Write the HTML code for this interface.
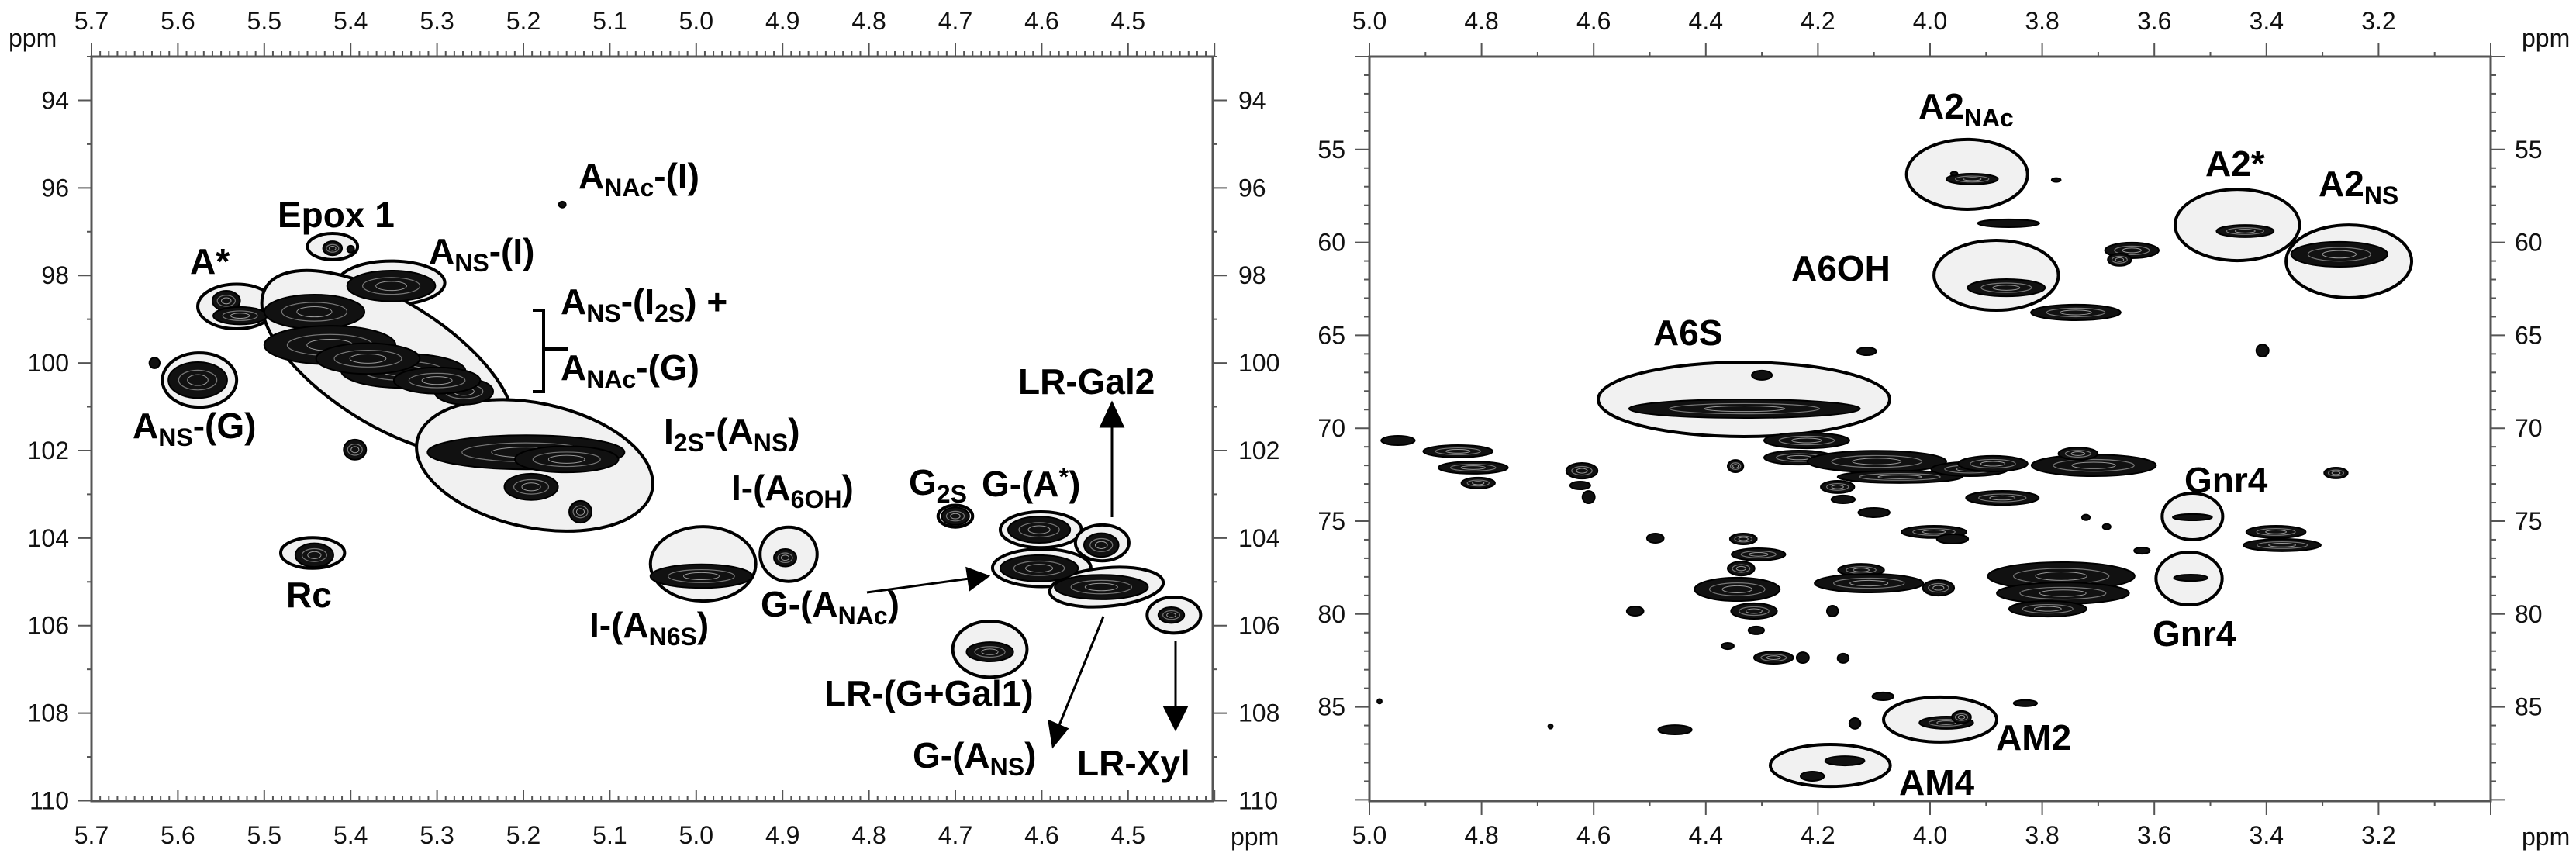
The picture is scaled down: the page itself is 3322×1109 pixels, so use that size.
<!DOCTYPE html>
<html><head><meta charset="utf-8">
<style>
html,body{margin:0;padding:0;background:#fff;}
svg{display:block;}
.tk{font-family:"Liberation Sans",Arial,sans-serif;font-size:32px;fill:#111;}
.lb{font-family:"Liberation Sans",Arial,sans-serif;font-size:46px;font-weight:bold;fill:#000;}
.sb{font-size:32px;}
</style></head>
<body>
<svg id="chart" width="3322" height="1109" viewBox="0 0 3322 1109" xmlns="http://www.w3.org/2000/svg">
<g id="circlesL"></g>
<g id="circlesR"></g>
<g id="peaksL"></g>
<g id="peaksR"></g>
<g id="axes"></g>
<g id="annot">
  <g>
  <text class="lb" x="746" y="243">A<tspan class="sb" dy="10">NAc</tspan><tspan dy="-10">-(I)</tspan></text>
  <text class="lb" x="358" y="293">Epox 1</text>
  <text class="lb" x="245" y="353">A*</text>
  <text class="lb" x="553" y="340">A<tspan class="sb" dy="10">NS</tspan><tspan dy="-10">-(I)</tspan></text>
  <text class="lb" x="723" y="405">A<tspan class="sb" dy="10">NS</tspan><tspan dy="-10">-(I</tspan><tspan class="sb" dy="10">2S</tspan><tspan dy="-10">) +</tspan></text>
  <text class="lb" x="723" y="490">A<tspan class="sb" dy="10">NAc</tspan><tspan dy="-10">-(G)</tspan></text>
  <text class="lb" x="171" y="565">A<tspan class="sb" dy="10">NS</tspan><tspan dy="-10">-(G)</tspan></text>
  <text class="lb" x="856" y="572">I<tspan class="sb" dy="10">2S</tspan><tspan dy="-10">-(A</tspan><tspan class="sb" dy="10">NS</tspan><tspan dy="-10">)</tspan></text>
  <text class="lb" x="943" y="645">I-(A<tspan class="sb" dy="10">6OH</tspan><tspan dy="-10">)</tspan></text>
  <text class="lb" x="1172" y="638">G<tspan class="sb" dy="10">2S</tspan></text>
  <text class="lb" x="1266" y="640">G-(A<tspan class="sb" dy="-14">*</tspan><tspan dy="14">)</tspan></text>
  <text class="lb" x="981" y="795">G-(A<tspan class="sb" dy="10">NAc</tspan><tspan dy="-10">)</tspan></text>
  <text class="lb" x="760" y="822">I-(A<tspan class="sb" dy="10">N6S</tspan><tspan dy="-10">)</tspan></text>
  <text class="lb" x="1063" y="910">LR-(G+Gal1)</text>
  <text class="lb" x="1177" y="990">G-(A<tspan class="sb" dy="10">NS</tspan><tspan dy="-10">)</tspan></text>
  <text class="lb" x="1389" y="1000">LR-Xyl</text>
  <text class="lb" x="369" y="783">Rc</text>
  <text class="lb" x="1313" y="508">LR-Gal2</text>
  <path d="M687,400 H701 V505 H687 M701,450 H732" fill="none" stroke="#000" stroke-width="4"/>
  <g stroke="#000" stroke-width="3" fill="#000">
    <line x1="1434" y1="667" x2="1434" y2="545"/><polygon points="1420,550 1448,550 1434,520"/>
    <line x1="1118" y1="764" x2="1250" y2="746"/><polygon points="1247,733 1251,760 1274,743"/>
    <line x1="1423" y1="795" x2="1366" y2="935"/><polygon points="1353,930 1376,940 1358,962"/>
    <line x1="1516" y1="827" x2="1516" y2="915"/><polygon points="1502,912 1530,912 1516,940"/>
  </g>
  </g>
  <g>
  <text class="lb" x="2474" y="153">A2<tspan class="sb" dy="10">NAc</tspan></text>
  <text class="lb" x="2310" y="362">A6OH</text>
  <text class="lb" x="2132" y="445">A6S</text>
  <text class="lb" x="2844" y="227">A2*</text>
  <text class="lb" x="2990" y="253">A2<tspan class="sb" dy="10">NS</tspan></text>
  <text class="lb" x="2817" y="635">Gnr4</text>
  <text class="lb" x="2776" y="833">Gnr4</text>
  <text class="lb" x="2574" y="967">AM2</text>
  <text class="lb" x="2449" y="1025">AM4</text>
  </g>
</g>
</svg>
<script>
// ---------- data (ppm) ----------
const peakLx = [5.544,5.528,5.421,5.353,5.442,5.424,5.339,5.269,5.577,5.197,5.191,5.134,5.442,4.994,4.897,4.700,4.603,4.531,4.603,4.531,4.450,4.660,5.155,5.627,5.395,5.400,5.380,5.300,5.150];
const peakLy = [98.58,98.92,97.38,98.24,98.83,99.59,100.18,100.65,100.39,102.04,102.83,103.40,104.39,104.87,104.45,103.50,103.81,104.16,104.69,105.12,105.76,106.60,96.38,100.00,101.98,97.40,99.90,100.40,102.20];
const peakLw = [0.016,0.031,0.011,0.051,0.058,0.076,0.072,0.034,0.034,0.114,0.031,0.013,0.022,0.059,0.013,0.016,0.036,0.020,0.045,0.054,0.015,0.027,0.004,0.006,0.013,0.004,0.060,0.050,0.060];
const peakLh = [0.23,0.20,0.16,0.35,0.39,0.44,0.39,0.30,0.41,0.39,0.30,0.25,0.27,0.27,0.20,0.20,0.30,0.27,0.30,0.28,0.18,0.22,0.07,0.12,0.23,0.08,0.35,0.30,0.30];
const circLx = [5.421,5.532,5.353,5.357,5.575,5.187,5.444,4.992,4.893,4.700,4.601,4.530,4.600,4.525,4.447,4.660];
const circLy = [97.34,98.71,98.17,100.00,100.39,102.34,104.34,104.59,104.37,103.50,103.81,104.11,104.68,105.12,105.76,106.54];
const circLrx = [0.029,0.045,0.062,0.166,0.043,0.139,0.037,0.061,0.033,0.020,0.047,0.031,0.057,0.066,0.031,0.043];
const circLry = [0.30,0.51,0.50,1.42,0.62,1.42,0.35,0.85,0.62,0.25,0.41,0.41,0.43,0.44,0.41,0.64];
const circLrot = [0,0,0,32,0,12,0,0,0,0,0,0,0,-5,0,0];
const peakRx = [4.331,4.300,4.113,3.925,3.860,3.775,3.864,3.640,3.662,3.740,3.438,3.270,3.407,
 4.949,4.842,4.815,4.806,4.621,4.624,4.609,4.490,4.347,
 4.220,4.234,4.095,4.054,4.165,4.155,3.929,3.888,3.708,3.736,3.871,4.100,3.993,3.960,
 4.333,4.306,4.337,4.344,4.314,4.310,4.361,4.279,4.227,4.155,
 4.123,4.109,3.985,4.174,4.526,4.455,4.084,4.134,3.971,3.944,4.152,4.210,3.830,
 3.766,3.763,3.790,3.532,3.535,3.383,3.372,3.276,3.622,3.685,3.722,4.982,4.677,3.957];
const peakRy = [68.95,67.15,65.86,56.59,58.97,56.64,62.44,60.43,60.93,63.77,59.39,60.64,65.82,
 70.66,71.24,72.12,72.95,72.29,73.08,73.71,75.92,72.04,
 70.66,71.58,71.79,72.62,73.16,73.83,72.20,71.91,72.00,71.37,73.75,74.54,75.58,75.96,
 75.96,76.79,77.55,78.67,79.84,80.88,81.72,82.35,82.35,82.38,
 77.63,78.34,78.59,79.84,79.84,86.23,84.43,85.89,85.85,85.55,87.90,88.73,84.80,
 77.96,78.88,79.72,74.79,78.05,75.58,76.29,72.41,76.59,75.30,74.80,84.70,86.05,56.30];
const peakRw = [0.206,0.018,0.017,0.046,0.055,0.008,0.069,0.048,0.021,0.080,0.051,0.086,0.011,
 0.030,0.062,0.062,0.030,0.028,0.018,0.011,0.015,0.014,
 0.076,0.062,0.124,0.111,0.030,0.021,0.069,0.062,0.111,0.035,0.065,0.028,0.058,0.028,
 0.024,0.048,0.024,0.076,0.041,0.014,0.011,0.035,0.011,0.010,
 0.041,0.097,0.028,0.010,0.015,0.030,0.019,0.010,0.048,0.017,0.035,0.021,0.021,
 0.131,0.118,0.069,0.035,0.030,0.053,0.069,0.021,0.014,0.007,0.007,0.004,0.004,0.006];
const peakRh = [0.50,0.25,0.21,0.29,0.21,0.10,0.46,0.42,0.33,0.42,0.33,0.67,0.33,
 0.25,0.33,0.33,0.29,0.42,0.21,0.33,0.25,0.33,
 0.42,0.38,0.58,0.33,0.33,0.21,0.38,0.42,0.58,0.33,0.38,0.25,0.33,0.25,
 0.29,0.33,0.38,0.63,0.42,0.21,0.17,0.33,0.29,0.25,
 0.33,0.50,0.42,0.29,0.25,0.25,0.21,0.29,0.33,0.33,0.25,0.25,0.17,
 0.75,0.58,0.42,0.17,0.17,0.33,0.33,0.29,0.17,0.15,0.15,0.12,0.12,0.10];
const circRx = [4.332,3.934,3.882,3.452,3.253,3.532,3.538,3.982,4.178];
const circRy = [68.45,56.34,61.77,59.06,61.02,74.75,78.09,85.68,88.15];
const circRrx = [0.260,0.108,0.111,0.111,0.112,0.054,0.059,0.101,0.107];
const circRry = [2.00,1.88,1.88,1.92,1.96,1.25,1.42,1.21,1.13];
const leftXTicks = ["5.7","5.6","5.5","5.4","5.3","5.2","5.1","5.0","4.9","4.8","4.7","4.6","4.5"];
const leftYTicks = [94,96,98,100,102,104,106,108,110];
const rightXTicks = ["5.0","4.8","4.6","4.4","4.2","4.0","3.8","3.6","3.4","3.2"];
const rightYTicks = [55,60,65,70,75,80,85];

const L = {x0:118,x1:1564,y0:73,y1:1033};
const R = {x0:1766,x1:3212,y0:73,y1:1033};
const xL = p => 118 + (5.7 - p) * 1114;
const yL = p => 73 + (p - 93) * 56.44;
const xR = p => 1766 + (5.0 - p) * 723;
const yR = p => 73 + (p - 50) * 23.96;
const NS = "http://www.w3.org/2000/svg";
function mk(tag, attrs, parent){ const e=document.createElementNS(NS,tag); for(const k in attrs) e.setAttribute(k,attrs[k]); parent.appendChild(e); return e; }

const gcl = document.getElementById('circlesL');
for (let i=0;i<circLx.length;i++){
  const cx=xL(circLx[i]), cy=yL(circLy[i]);
  const e = mk('ellipse',{cx:cx,cy:cy,rx:circLrx[i]*1114,ry:circLry[i]*56.44,fill:'#f1f1f1',stroke:'#000','stroke-width':4,transform:`rotate(${circLrot[i]} ${cx} ${cy})`},gcl);
  
  
}
const gcr = document.getElementById('circlesR');
for (let i=0;i<circRx.length;i++){
  const e = mk('ellipse',{cx:xR(circRx[i]),cy:yR(circRy[i]),rx:circRrx[i]*723,ry:circRry[i]*23.96,fill:'#f1f1f1',stroke:'#000','stroke-width':4},gcr);
  
  
}
function drawPeak(g, cx, cy, rx, ry){
  const grp = mk('g',{},g);
  
  
  mk('ellipse',{cx:cx,cy:cy,rx:Math.max(rx,2.5),ry:Math.max(ry,2.5),fill:'#111',stroke:'#000','stroke-width':2},grp);
  if (rx>10 && ry>6){
    mk('ellipse',{cx:cx,cy:cy,rx:rx*0.65,ry:ry*0.55,fill:'none',stroke:'#777','stroke-width':1.2},grp);
    mk('ellipse',{cx:cx,cy:cy,rx:rx*0.35,ry:ry*0.3,fill:'none',stroke:'#999','stroke-width':1},grp);
  }
}
const gpl = document.getElementById('peaksL');
for (let i=0;i<peakLx.length;i++) drawPeak(gpl, xL(peakLx[i]), yL(peakLy[i]), peakLw[i]*1114, peakLh[i]*56.44);
const gpr = document.getElementById('peaksR');
for (let i=0;i<peakRx.length;i++) drawPeak(gpr, xR(peakRx[i]), yR(peakRy[i]), peakRw[i]*723, peakRh[i]*23.96);

const ga = document.getElementById('axes');
function line(x1,y1,x2,y2,w){ mk('line',{x1:x1,y1:y1,x2:x2,y2:y2,stroke:'#555','stroke-width':w||2},ga); }
function txt(x,y,s,anchor){ const t=mk('text',{x:x,y:y,class:'tk','text-anchor':anchor||'middle'},ga); t.textContent=s;   return t; }
[L,R].forEach(P=>{ const r=mk('rect',{x:P.x0,y:P.y0,width:P.x1-P.x0,height:P.y1-P.y0,fill:'none',stroke:'#555','stroke-width':3},ga);   });
for (let k=0;k<=130;k++){
  const x = xL(5.7 - k*0.01); const maj = k%10===0;
  line(x,L.y0,x,L.y0-(maj?18:7),2);
  line(x,L.y1,x,L.y1-(maj?14:7),2);
}
leftXTicks.forEach(s=>{ const x=xL(parseFloat(s)); txt(x,38,s); txt(x,1088,s); });
for (let v=93; v<=110; v++){
  const y=yL(v); const maj=v%2===0;
  line(L.x0-(maj?18:6),y,L.x0,y,2);
  line(L.x1,y,L.x1+(maj?18:6),y,2);
}
leftYTicks.forEach(v=>{ const y=yL(v)+11; txt(89,y,String(v),'end'); txt(1597,y,String(v),'start'); });
txt(11,60,'ppm','start'); txt(1587,1090,'ppm','start');
for (let k=0;k<=20;k++){
  const x=xR(5.0-k*0.1); const maj=k%2===0;
  line(x,R.y0,x,R.y0-(maj?18:6),2);
  line(x,R.y1,x,R.y1+(maj?18:6),2);
}
rightXTicks.forEach(s=>{ const x=xR(parseFloat(s)); txt(x,38,s); txt(x,1088,s); });
for (let v=50; v<=90; v++){
  const y=yR(v); const maj=v%5===0;
  line(R.x0-(maj?18:7),y,R.x0,y,2);
  line(R.x1,y,R.x1+(maj?18:7),y,2);
}
rightYTicks.forEach(v=>{ const y=yR(v)+11; txt(1735,y,String(v),'end'); txt(3243,y,String(v),'start'); });
txt(3252,60,'ppm','start'); txt(3252,1090,'ppm','start');
</script>
</body></html>
